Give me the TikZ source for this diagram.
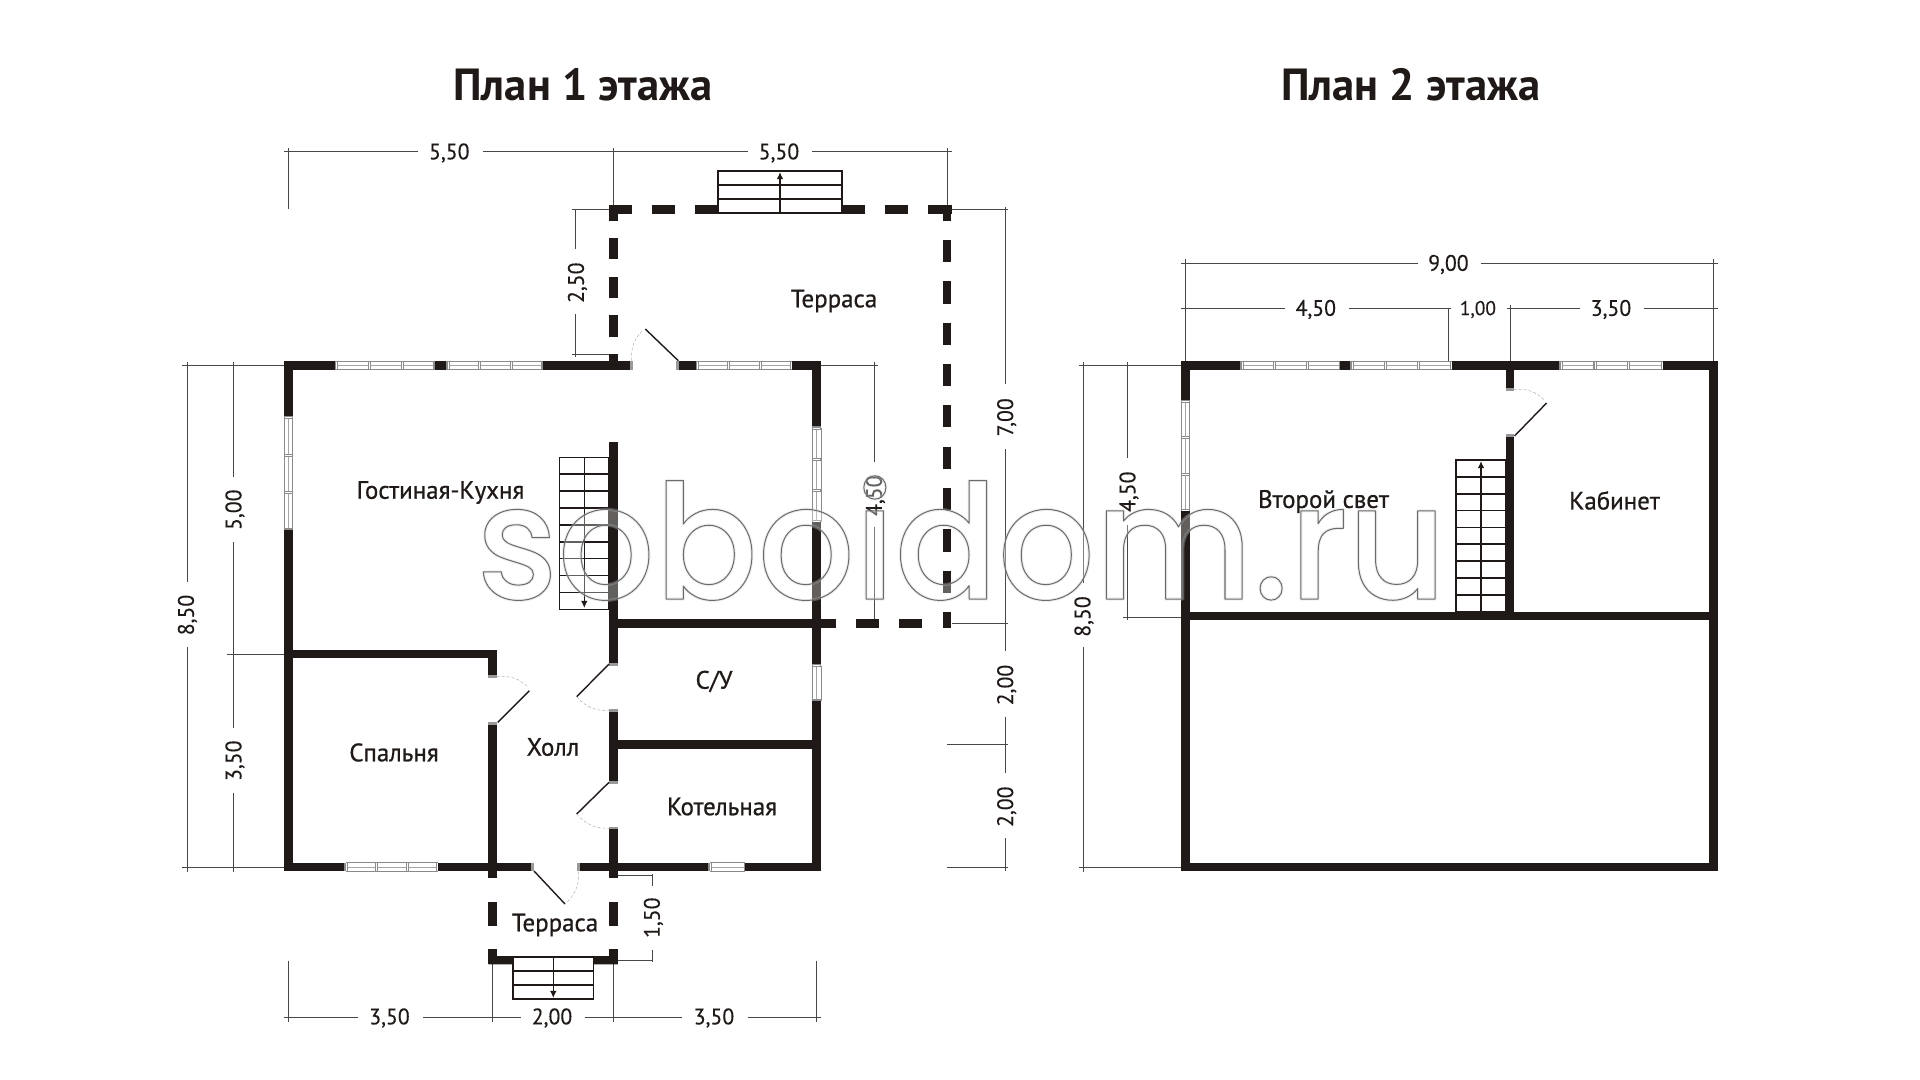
\documentclass[tikz,border=0pt]{standalone}
\usepackage{fontspec}
\usetikzlibrary{arrows.meta}
\setmainfont{PT Sans}
\newfontfamily\dimf[FakeBold=0.2,FakeStretch=0.97]{PT Sans}
\newfontfamily\roomf[FakeBold=0.7,FakeStretch=0.99]{PT Sans}
\newfontfamily\titlef[FakeStretch=0.99]{PT Sans Bold}
\newfontfamily\markf[FakeStretch=0.95]{Poppins Medium}
\definecolor{wallc}{HTML}{1F1A17}
\definecolor{dimc}{HTML}{474747}
\definecolor{winc}{HTML}{8A8A8A}
\tikzset{
  x=0.5pt,y=-0.5pt,
  dimline/.style={draw=dimc,line width=0.45pt},
  step line/.style={draw=wallc,line width=0.8pt},
  leaf/.style={draw=wallc,line width=0.7pt},
  swing/.style={draw=black!30,line width=0.25pt,dash pattern=on 1.5pt off 1pt},
  dimtext/.style={font=\dimf\fontsize{11.2}{12}\selectfont,text=wallc,inner sep=0pt},
  room/.style={font=\roomf\fontsize{12.6}{14}\selectfont,text=wallc,inner sep=0pt},
  plantitle/.style={font=\titlef\fontsize{22.5}{26}\selectfont,text=wallc,inner sep=0pt},
  stepbox/.style={step line,fill=white},
  uparrow/.style={draw=wallc,line width=0.7pt,-{Latex[length=3.6pt,width=3.4pt]}},
}
\newcommand{\hw}[3]{\fill[wallc] (#1,#3-4.4) rectangle (#2,#3+4.4);}
\newcommand{\vw}[3]{\fill[wallc] (#3-4.4,#1) rectangle (#3+4.4,#2);}
\newcommand{\hjamb}[2]{\fill[black!40] (#1-1.5,#2-4.4) rectangle (#1+1.5,#2+4.4);}
\newcommand{\vjamb}[2]{\fill[black!40] (#1-4.4,#2-1.5) rectangle (#1+4.4,#2+1.5);}
\newcommand{\hwin}[4]{%
  \fill[white] (#1,#3-4.4) rectangle (#2,#3+4.4);
  \draw[winc,line width=0.4pt] (#1,#3-4.2) -- (#2,#3-4.2) (#1,#3+4.2) -- (#2,#3+4.2);
  \draw[black!35,line width=0.3pt] (#1,#3) -- (#2,#3);
  \foreach \i in {0,...,#4}{\pgfmathsetmacro\xx{#1+\i*(#2-#1)/#4}
    \fill[black!45] (\xx-1.6,#3-4.4) rectangle (\xx+1.6,#3+4.4);
    \fill[white] (\xx-0.4,#3-3.6) rectangle (\xx+0.4,#3+3.6);}
}
\newcommand{\vwin}[4]{%
  \fill[white] (#3-4.4,#1) rectangle (#3+4.4,#2);
  \draw[winc,line width=0.4pt] (#3-4.2,#1) -- (#3-4.2,#2) (#3+4.2,#1) -- (#3+4.2,#2);
  \draw[black!35,line width=0.3pt] (#3,#1) -- (#3,#2);
  \foreach \i in {0,...,#4}{\pgfmathsetmacro\yy{#1+\i*(#2-#1)/#4}
    \fill[black!45] (#3-4.4,\yy-1.6) rectangle (#3+4.4,\yy+1.6);
    \fill[white] (#3-3.6,\yy-0.4) rectangle (#3+3.6,\yy+0.4);}
}
\begin{document}
\begin{tikzpicture}
\useasboundingbox (0,0) rectangle (1920,1080);
\fill[white] (0,0) rectangle (1920,1080);

% titles
\node[plantitle] (t1) at (583,85) {План 1 этажа};
\node[plantitle] (t2) at (1410.6,85) {План 2 этажа};

% ---------- dimension lines, plan 1
\draw[dimline] (284.3,151.7) -- (418.3,151.7) (483.3,151.7) -- (747.7,151.7) (812.3,151.7) -- (951.7,151.7);
\draw[dimline] (288.5,147.7) -- (288.5,209.3) (613.3,147.7) -- (613.3,205) (947,147.7) -- (947,205);
\draw[dimline] (575.7,209.3) -- (575.7,249.3) (575.7,314) -- (575.7,356.7);
\draw[dimline] (572.3,209.3) -- (609,209.3) (572.3,354.3) -- (609,354.3);
\draw[dimline] (182.3,365.5) -- (284,365.5) (182.3,867) -- (284,867) (227.3,654) -- (284,654);
\draw[dimline] (187.3,361.7) -- (187.3,581.7) (187.3,646.7) -- (187.3,871.7);
\draw[dimline] (233.7,361.7) -- (233.7,476.7) (233.7,541.7) -- (233.7,728.3) (233.7,793.3) -- (233.7,871.7);
\draw[dimline] (821,365.5) -- (878.3,365.5) (874.3,361.7) -- (874.3,462.3) (874.3,526.7) -- (874.3,623.3);
\draw[dimline] (1005,206.7) -- (1005,384.3) (1005,449.3) -- (1005,651) (1005,716.7) -- (1005,773.3) (1005,838.3) -- (1005,870.7);
\draw[dimline] (952,209.3) -- (1008.3,209.3) (952,623.3) -- (1008.3,623.3) (947.3,744.3) -- (1008.3,744.3) (947.3,867) -- (1008.3,867);
\draw[dimline] (652,874.3) -- (652,886) (652,950) -- (652,962.3) (618,875.7) -- (653,875.7) (618,960.7) -- (653,960.7);
\draw[dimline] (284,1017.3) -- (357.8,1017.3) (423.4,1017.3) -- (520.7,1017.3) (585.4,1017.3) -- (682.3,1017.3) (747.5,1017.3) -- (821,1017.3);
\draw[dimline] (288.5,960.7) -- (288.5,1021.7) (492.6,964) -- (492.6,1021.7) (613.6,964) -- (613.6,1021.7) (816.7,960.7) -- (816.7,1021.7);

% ---------- dimension lines, plan 2
\draw[dimline] (1181,263.7) -- (1418,263.7) (1481.4,263.7) -- (1718,263.7);
\draw[dimline] (1185.4,259.3) -- (1185.4,361) (1713.6,259.3) -- (1713.6,361);
\draw[dimline] (1181,308.7) -- (1284.5,308.7) (1348.8,308.7) -- (1451,308.7) (1507,308.7) -- (1580,308.7) (1644,308.7) -- (1718,308.7);
\draw[dimline] (1448.4,308.7) -- (1448.4,361) (1510,304.7) -- (1510,361);
\draw[dimline] (1078.8,365.5) -- (1181,365.5) (1078.8,867) -- (1181,867) (1123.4,617) -- (1181,617);
\draw[dimline] (1083.7,361.7) -- (1083.7,583) (1083.7,646.7) -- (1083.7,871.7);
\draw[dimline] (1127.9,361.7) -- (1127.9,458.3) (1127.9,525) -- (1127.9,620);

% ---------- plan 1 walls
\hw{284.3}{336.7}{365.5}
\hwin{336.7}{435}{365.5}{3}
\hw{435}{448}{365.5}
\hwin{448}{543}{365.5}{3}
\hw{543}{631}{365.5}
\hjamb{631.5}{365.5}
\hjamb{677.8}{365.5}
\hw{679}{697.3}{365.5}
\hwin{697.3}{791.7}{365.5}{3}
\hw{791.7}{821}{365.5}
\vw{361}{417.7}{288.5}
\vwin{417.7}{530}{288.5}{3}
\vw{530}{871.4}{288.5}
\vw{361}{428}{816.7}
\vwin{428}{521.7}{816.7}{3}
\vw{521.7}{665.7}{816.7}
\vwin{665.7}{701}{816.7}{1}
\vw{701}{871.4}{816.7}
\hw{284.3}{346}{867}
\hwin{346}{437.7}{867}{3}
\hw{437.7}{531}{867}
\hjamb{532.5}{867}
\hjamb{578.3}{867}
\hw{580}{710}{867}
\hwin{710}{745.3}{867}{1}
\hw{745.3}{821}{867}
\vw{442}{663.3}{613.3}
\vjamb{613.3}{664.7}
\vjamb{613.3}{710.4}
\vw{711.7}{780.7}{613.3}
\vjamb{613.3}{782}
\vjamb{613.3}{828}
\vw{829.3}{878.3}{613.3}
\hw{288}{497}{654}
\vw{650}{675}{492.7}
\vjamb{492.7}{676.5}
\vjamb{492.7}{723}
\vw{724.7}{878.3}{492.7}
\hw{609}{835.7}{623.3}
\hw{609}{816}{744.3}
% dashed terrace (large)
\hw{609}{631.7}{209.3}
\hw{652.3}{675}{209.3}
\hw{695}{718}{209.3}
\hw{842}{865}{209.3}
\hw{885}{908}{209.3}
\hw{928}{952}{209.3}
\vw{205}{220.7}{613.3}
\vw{237.7}{259.3}{613.3}
\vw{276.7}{298.3}{613.3}
\vw{315}{336.7}{613.3}
\vw{354}{361}{613.3}
\vw{205}{220.7}{947}
\vw{240}{262}{947}
\vw{281}{303.7}{947}
\vw{322.7}{345}{947}
\vw{364}{386.3}{947}
\vw{405}{427}{947}
\vw{446.7}{469}{947}
\vw{488}{510}{947}
\vw{529.3}{551.7}{947}
\vw{571}{593}{947}
\vw{612}{627.7}{947}
\hw{856}{879}{623.3}
\hw{899}{922}{623.3}
% dashed terrace (small)
\vw{901.7}{925.7}{492.7}
\vw{949}{964}{492.7}
\vw{901.7}{925.7}{613.6}
\vw{949}{964}{613.6}
\fill[wallc] (488.6,956) rectangle (512.7,964.4) (593.5,956) rectangle (617.8,964.4);

% doors, plan 1
\draw[leaf] (678.3,360.7) -- (645.3,329);
\draw[swing] (631.7,360.7) to[bend left=25] (643,330);
\draw[leaf] (497.7,722.3) -- (529.3,690.7);
\draw[swing] (496.7,676.7) to[bend left=25] (528.3,687.3);
\draw[leaf] (609,664) -- (576.7,696.7);
\draw[swing] (576.7,696.7) to[bend right=25] (609,710.7);
\draw[leaf] (609,782.3) -- (576.7,814);
\draw[swing] (576.7,814) to[bend right=25] (609,828.3);
\draw[leaf] (534,871) -- (565,904);
\draw[swing] (578.7,871.7) to[bend left=25] (565,904);

% stairs, plan 1
\draw[stepbox] (718,171.3) rectangle (842,213.3);
\draw[step line] (718,185) -- (842,185) (718,199) -- (842,199);
\draw[uparrow] (780,213.3) -- (780,172);
\draw[stepbox] (559.3,457.3) rectangle (609,609.3);
\foreach \n in {1,...,8}{\draw[step line] (559.3,457.3+\n*16.89) -- (609,457.3+\n*16.89);}
\draw[uparrow] (584.3,457.3) -- (584.3,608);
\draw[stepbox] (512.7,956.7) rectangle (593.5,998.7);
\draw[step line] (512.7,970.7) -- (593.5,970.7) (512.7,984.7) -- (593.5,984.7);
\draw[uparrow] (553.3,956.7) -- (553.3,998);

% ---------- plan 2 walls
\hw{1181}{1242}{365.5}
\hwin{1242}{1340.4}{365.5}{3}
\hw{1340.4}{1352}{365.5}
\hwin{1352}{1451.5}{365.5}{3}
\hw{1451.5}{1561}{365.5}
\hwin{1561}{1662.7}{365.5}{3}
\hw{1662.7}{1718}{365.5}
\vw{361}{401.3}{1185.4}
\vwin{401.3}{510.7}{1185.4}{3}
\vw{510.7}{871.4}{1185.4}
\vw{361}{871.4}{1713.6}
\hw{1181}{1718}{867}
\hw{1181}{1718}{616}
\vw{361}{388.3}{1510}
\vjamb{1510}{389.8}
\vjamb{1510}{435}
\vw{436.7}{616}{1510}
\draw[leaf] (1514.5,436) -- (1546.6,403);
\draw[swing] (1513.6,389.7) to[bend left=25] (1544.4,400);
\draw[stepbox] (1456,460) rectangle (1505.5,611.7);
\foreach \n in {1,...,8}{\draw[step line] (1456,460+\n*16.85) -- (1505.5,460+\n*16.85);}
\draw[uparrow] (1481,612) -- (1481,461);

% ---------- labels
\node[room] (r1) at (440.5,492.5) {Гостиная-Кухня};
\node[room] (r2) at (834,301) {Терраса};
\node[room] (r3) at (394,752.5) {Спальня};
\node[room] (r4) at (553,747) {Холл};
\node[room] (r5) at (714,681.5) {С/У};
\node[room] (r6) at (722,806.5) {Котельная};
\node[room] (r7) at (555,925) {Терраса};
\node[room] (r8) at (1323.5,501.5) {Второй свет};
\node[room] (r9) at (1614.5,500.5) {Кабинет};

\node[dimtext] (d1) at (449.3,153) {5,50};
\node[dimtext] (d2) at (779,153) {5,50};
\node[dimtext,rotate=90] (d3) at (577.5,282.7) {2,50};
\node[dimtext,rotate=90] (d4) at (187.5,615) {8,50};
\node[dimtext,rotate=90] (d5) at (235,509.7) {5,00};
\node[dimtext,rotate=90] (d6) at (235,760.7) {3,50};
\node[dimtext,rotate=90] (d7) at (875.5,495.7) {4,50};
\node[dimtext,rotate=90] (d8) at (1006.7,417.3) {7,00};
\node[dimtext,rotate=90] (d9) at (1006.7,685) {2,00};
\node[dimtext,rotate=90] (d10) at (1006.7,806.7) {2,00};
\node[dimtext,rotate=90] (d11) at (653.4,917.7) {1,50};
\node[dimtext] (d12) at (389.5,1018) {3,50};
\node[dimtext] (d13) at (552,1018) {2,00};
\node[dimtext] (d14) at (714,1018) {3,50};
\node[dimtext] (d15) at (1448.4,264.5) {9,00};
\node[dimtext] (d16) at (1315.8,309.5) {4,50};
\node[dimtext,font=\dimf\fontsize{10}{11}\selectfont] (d17) at (1477.9,309.5) {1,00};
\node[dimtext] (d18) at (1611,309.5) {3,50};
\node[dimtext,rotate=90] (d19) at (1084,616.5) {8,50};
\node[dimtext,rotate=90] (d20) at (1129,491.7) {4,50};

% ---------- watermark (outlined real text): a light halo with a darker line on it
\node[inner sep=0pt,text=white,text opacity=0.3,anchor=base] (wm) at (961.5,599)
  {\markf\fontsize{80}{90}\selectfont\special{pdf:code 2 Tr 1.5 w 1 j 0.78 G}soboidom.ru\special{pdf:code 0 Tr}};
\node[inner sep=0pt,text=white,anchor=base] (wmline) at (961.5,599)
  {\markf\fontsize{80}{90}\selectfont\special{pdf:code 1 Tr 0.5 w 1 j 0.42 G}soboidom.ru\special{pdf:code 0 Tr}};
\end{tikzpicture}
\end{document}
